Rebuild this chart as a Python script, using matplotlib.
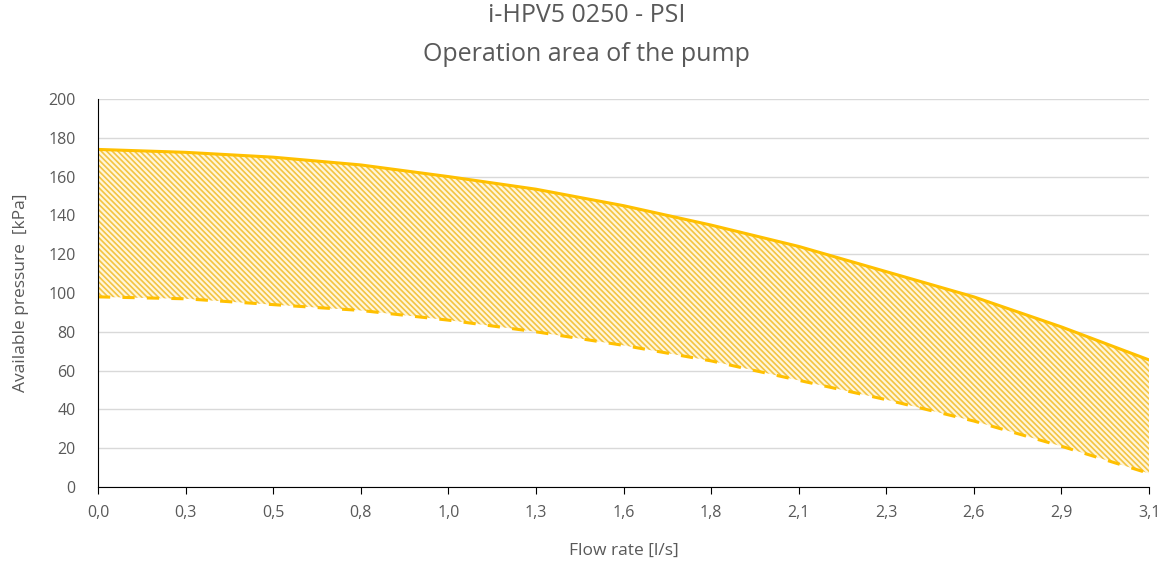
import numpy as np
import matplotlib.pyplot as plt

# Flow rate categories (l/s) and tick labels
flow = [0.0, 0.26, 0.52, 0.78, 1.04, 1.30, 1.56, 1.83, 2.09, 2.35, 2.61, 2.87, 3.13]
flow_labels = ["0,0", "0,3", "0,5", "0,8", "1,0", "1,3", "1,6", "1,8", "2,1", "2,3", "2,6", "2,9", "3,1"]

# Available pressure (kPa): max and min curves
p_max = [174, 172.5, 170, 166, 160, 153.5, 145, 135, 124, 111, 98, 82.5, 65.5]
p_min = [98, 97, 94, 91, 86, 80, 73, 65, 55, 45, 34, 21, 7]

gold = "#FFC000"
grey = "#595959"

plt.rcParams['font.family'] = ['Open Sans', 'DejaVu Sans']
plt.rcParams['hatch.linewidth'] = 1.2

fig = plt.figure(figsize=(11.61, 5.63), dpi=100)
ax = fig.add_axes([0.0844, 0.135, 0.9053, 0.6892])

x = np.arange(len(flow))
ax.fill_between(x, p_min, p_max, facecolor="#FFF6DA", edgecolor="#F3C443",
                hatch='\\' * 6, linewidth=0)
ax.plot(x, p_max, color=gold, lw=2.2)
ax.plot(x, p_min, color=gold, lw=2.2, dashes=(4, 4))

ax.set_xlim(0, len(flow) - 1)
ax.set_ylim(0, 200)
ax.set_xticks(x)
ax.set_xticklabels(flow_labels)
ax.set_yticks(np.arange(0, 201, 20))
ax.grid(axis='y', color="#D9D9D9", lw=1)
ax.set_axisbelow(True)

for s in ['top', 'right']:
    ax.spines[s].set_visible(False)
ax.spines['left'].set_color('black')
ax.spines['bottom'].set_color('black')
ax.tick_params(axis='y', length=0, colors=grey, labelsize=11.5, pad=16)
ax.tick_params(axis='x', length=5, color='black', labelcolor=grey, labelsize=11.5, pad=8)

ax.set_xlabel("Flow rate [l/s]", color=grey, fontsize=12.5, labelpad=16)
ax.set_ylabel("Available pressure  [kPa]", color=grey, fontsize=12.5, labelpad=14)
fig.suptitle("i-HPV5 0250 - PSI\nOperation area of the pump", color=grey,
             fontsize=18, x=0.505, y=0.995, linespacing=1.75)

plt.savefig("out.png", dpi=100)
